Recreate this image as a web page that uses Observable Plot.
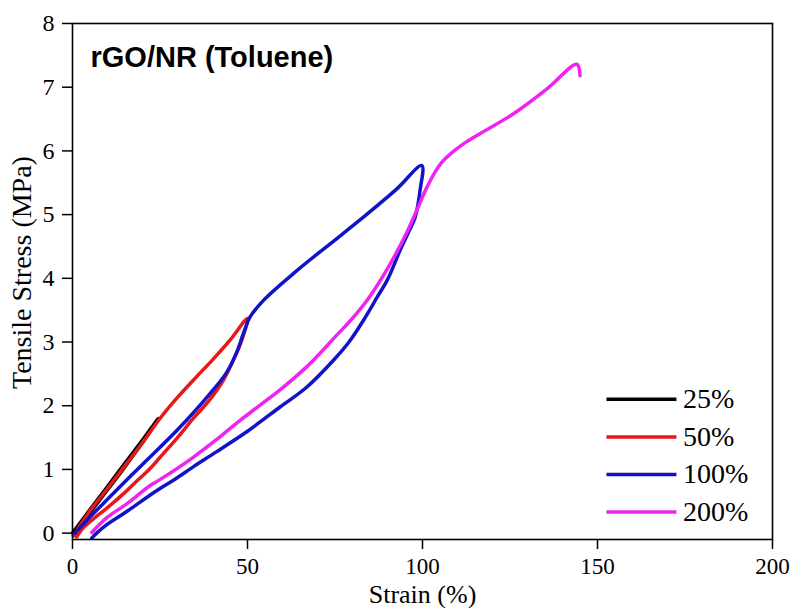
<!DOCTYPE html>
<html>
<head>
<meta charset="utf-8">
<script src="https://cdn.jsdelivr.net/npm/d3@7"></script>
<script src="https://cdn.jsdelivr.net/npm/@observablehq/plot@0.6"></script>
<style>
  html, body { margin: 0; padding: 0; background: #fff; }
  #chart svg { display: block; }
</style>
</head>
<body>
<div id="chart"></div>
<script>
// ---- Data ----
const seriesNames = ["25%", "50%", "100%", "200%"];
const seriesColors = ["#000000", "#e81818", "#1212c8", "#f024f0"];

// 25% cycle (loading then unloading)
const strain25 = [0, 5, 10, 15, 20, 24.5, 22, 18, 14, 10, 6, 2, 0.3];
const stress25 = [0, 0.37, 0.73, 1.10, 1.46, 1.80, 1.58, 1.27, 0.97, 0.68, 0.39, 0.10, -0.04];

// 50% cycle
const strain50 = [0.3, 5, 10, 15, 20, 25, 30, 35, 40, 45, 50,
                  48.5, 46, 43.1, 39.3, 34.5, 30, 25, 22.1, 18.6, 15, 10, 5.9, 3, 1.2];
const stress50 = [-0.04, 0.35, 0.70, 1.06, 1.42, 1.80, 2.13, 2.43, 2.72, 3.03, 3.37,
                  3.05, 2.72, 2.40, 2.10, 1.80, 1.50, 1.19, 1.01, 0.83, 0.64, 0.40, 0.22, 0.08, -0.06];

// 100% cycle
const strain100 = [0.7, 5.5, 10.7, 15.4, 20.2, 29.8, 39.3, 44, 47, 48.8, 50.7, 54.5, 64.1, 73.6, 83.1, 92.6, 99.8,
                   99.3, 97.9, 95.8, 93.6, 90, 87, 83, 79, 74.5, 66.9, 59.3, 50, 41.2, 34.5, 29.4, 25, 22, 15.5, 10, 6.9, 5.5];
const stress100 = [0, 0.28, 0.57, 0.83, 1.09, 1.61, 2.19, 2.52, 2.85, 3.13, 3.39, 3.65, 4.12, 4.54, 4.96, 5.40, 5.77,
                   5.38, 4.96, 4.70, 4.44, 3.98, 3.70, 3.33, 3.00, 2.71, 2.29, 1.98, 1.60, 1.28, 1.04, 0.85, 0.70, 0.59, 0.34, 0.14, 0, -0.08];

// 200% cycle (broke before 200%)
const strain200 = [5.5, 10, 15.5, 22, 25, 34.5, 41.2, 44.1, 47.9, 53.6, 59.3, 66.9, 71.7, 74.5, 78.3, 81.2, 85,
                   90.7, 95.5, 98.3, 101, 103.5, 105.5, 107.9, 111.7, 116.4, 125.9, 135.5, 144.1, 145];
const stress200 = [0.01, 0.25, 0.46, 0.74, 0.84, 1.19, 1.47, 1.60, 1.77, 2.01, 2.25, 2.61, 2.88, 3.05, 3.27, 3.45, 3.72,
                   4.22, 4.72, 5.06, 5.40, 5.66, 5.82, 5.95, 6.11, 6.27, 6.58, 6.97, 7.36, 7.18];

const xTicks = [0, 50, 100, 150, 200];
const yTicks = [0, 1, 2, 3, 4, 5, 6, 7, 8];
const chartTitle = "rGO/NR (Toluene)";
const xLabel = "Strain (%)";
const yLabel = "Tensile Stress (MPa)";

// ---- Build table ----
const strains = [strain25, strain50, strain100, strain200];
const stresses = [stress25, stress50, stress100, stress200];
const rows = seriesNames.flatMap((name, k) =>
  strains[k].map((x, i) => ({ name, strain: x, stress: stresses[k][i] })));

// legend entries placed in data space (lower right of the frame)
const legend = seriesNames.map((name, i) => ({
  name, x1: 152.7, x2: 172.7, y: 2.10 - i * 0.59
}));

const chart = Plot.plot({
  width: 794,
  height: 608,
  marginLeft: 72,
  marginRight: 22,
  marginTop: 23,
  marginBottom: 69,
  style: { fontFamily: "'Liberation Serif', 'Times New Roman', serif", fontSize: "23px", color: "#000", background: "#fff" },
  x: { domain: [0, 200] },
  y: { domain: [-0.1, 8] },
  color: { domain: seriesNames, range: seriesColors },
  marks: [
    Plot.axisX({ ticks: xTicks, tickSize: 10, tickPadding: 8, strokeWidth: 1.5, label: null, fontSize: 23 }),
    Plot.axisY({ ticks: yTicks, tickSize: 10, tickPadding: 8, strokeWidth: 1.5, label: null, fontSize: 24 }),
    Plot.line(rows, { x: "strain", y: "stress", z: "name", stroke: "name", strokeWidth: 3.5, curve: "catmull-rom", strokeLinejoin: "round", strokeLinecap: "round" }),
    Plot.frame({ stroke: "#000", strokeWidth: 1.6 }),
    Plot.ruleY(legend, { y: "y", x1: "x1", x2: "x2", stroke: "name", strokeWidth: 3.5 }),
    Plot.text(legend, { x: "x2", y: "y", text: "name", dx: 6, textAnchor: "start", fontSize: 28, fill: "#000" }),
    Plot.text([chartTitle], { frameAnchor: "top-left", dx: 18, dy: 34, lineAnchor: "middle", textAnchor: "start",
      fontFamily: "'Liberation Sans', Arial, sans-serif", fontWeight: "bold", fontSize: 29, fill: "#000" }),
    Plot.text([xLabel], { frameAnchor: "bottom", dy: 63, lineAnchor: "bottom", textAnchor: "middle", fontSize: 26, fill: "#000" }),
    Plot.text([yLabel], { frameAnchor: "left", dx: -61, dy: -9, rotate: -90, lineAnchor: "top", textAnchor: "middle", fontSize: 28, fill: "#000" })
  ]
});
document.getElementById("chart").appendChild(chart);
</script>
</body>
</html>
